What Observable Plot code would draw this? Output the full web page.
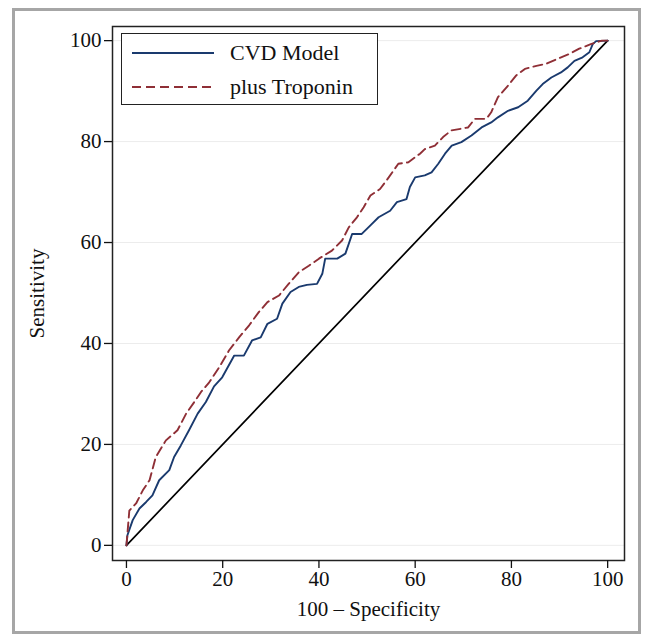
<!DOCTYPE html>
<html>
<head>
<meta charset="utf-8">
<script src="https://cdn.jsdelivr.net/npm/d3@7"></script>
<script src="https://cdn.jsdelivr.net/npm/@observablehq/plot@0.6"></script>
<style>
  html, body { margin: 0; padding: 0; background: #fff; }
  #wrap { position: relative; width: 647px; height: 637px; overflow: hidden; }
  #border { position: absolute; left: 12px; top: 8px; width: 629px; height: 626px; box-sizing: border-box; border: 3px solid #a6a6a6; }
  #chart { position: absolute; left: 0; top: 0; }
  #legend { position: absolute; left: 121px; top: 33px; width: 257px; height: 72px; box-sizing: border-box;
            border: 1.5px solid #222; background: #fff; font-family: "Liberation Serif", "DejaVu Serif", serif; font-size: 22px; color: #111; }
  .row { position: absolute; left: 10px; display: flex; align-items: center; line-height: 24px; }
  .row span { margin-left: 16px; }
</style>
</head>
<body>
<div id="wrap">
  <div id="border"></div>
  <div id="chart"></div>
  <div id="legend"></div>
</div>
<script>
// ---- data ----
const seriesNames = ["CVD Model", "plus Troponin"];
const seriesColors = ["#1a3a6e", "#8f2f36"];

const cvdFpr = [0,0.2,1.3,2.7,4.1,5.4,6.8,8.9,9.9,11.3,13,14.8,16.5,18.2,19.9,22.4,24.4,26.1,27.9,29.3,31.3,32.4,34.1,35.8,37.5,39.6,40.7,41.3,43.8,45.5,46.9,48.9,50.7,52.4,54.8,56.2,58.2,58.9,60,62,63.4,64.8,66.2,67.6,69.6,71.7,73.8,75.8,77.2,79.3,81.4,83.4,85.2,86.5,88.3,90.3,91.7,93.1,94.8,96.2,96.9,97.6,100];
const cvdTpr = [0,2,5,7.3,8.6,9.9,12.9,14.9,17.5,19.8,22.8,26.1,28.4,31.5,33.3,37.6,37.6,40.6,41.2,43.9,44.9,47.9,50.2,51.2,51.6,51.8,53.8,56.8,56.8,57.8,61.7,61.7,63.4,65,66.3,68,68.6,71,72.9,73.3,73.9,75.6,77.6,79.2,79.9,81.2,82.8,83.8,84.8,86.1,86.8,88.1,90.1,91.4,92.7,93.7,94.7,96,96.7,97.7,99.3,99.9,100];

const tropFpr = [0,0.2,0.6,2,3.4,4.8,6.1,8.2,10.6,12.4,14.1,15.5,17.2,19.3,21.3,23.4,25.5,27.5,29.3,31.7,33.7,35.8,37.9,40,42.7,44.8,46.2,47.9,49.3,50.7,52.7,54.5,56.5,58.6,61,62,64.1,65.8,67.5,71,72.4,74.8,75.8,77.2,79.3,81,82.8,85.2,87.2,89.6,92.1,94.1,96.5,98.8,100];
const tropTpr = [0,2.3,6.9,8.3,10.9,12.9,17.5,20.8,22.8,26.1,28.4,30.4,32.3,35.3,38.6,41.2,43.6,46.2,48.2,49.5,51.8,54.1,55.4,56.8,58.4,60.4,63,65,67,69.3,70.6,72.9,75.6,75.9,77.6,78.5,79.2,80.9,82.2,82.8,84.5,84.5,85.8,88.8,91.1,93.1,94.4,95,95.4,96.4,97.4,98.4,99.3,100,100];

const refX = [0, 100];
const refY = [0, 100];

const xTicks = [0, 20, 40, 60, 80, 100];
const yTicks = [0, 20, 40, 60, 80, 100];

// ---- build tables ----
const cvd = cvdFpr.map((x, i) => ({x, y: cvdTpr[i]}));
const trop = tropFpr.map((x, i) => ({x, y: tropTpr[i]}));
const ref = refX.map((x, i) => ({x, y: refY[i]}));

const font = '"Liberation Serif", "DejaVu Serif", serif';

const chart = Plot.plot({
  width: 647,
  height: 637,
  marginLeft: 112,
  marginRight: 23,
  marginTop: 26,
  marginBottom: 77,
  style: { fontFamily: font, fontSize: "21px", color: "#111", background: "transparent" },
  x: { domain: [-2.9, 103.5] },
  y: { domain: [-3.0, 102.8] },
  marks: [
    Plot.ruleY(yTicks, { stroke: "#ececec", strokeWidth: 1 }),
    Plot.frame({ stroke: "#222", strokeWidth: 1.5 }),
    Plot.axisX(xTicks, { tickSize: 8, tickPadding: 3, strokeWidth: 1.3, fontSize: 21,
      label: "100 – Specificity", labelAnchor: "center", labelArrow: "none", labelOffset: 55 }),
    Plot.axisY(yTicks, { tickSize: 8, tickPadding: 3, strokeWidth: 1.3, fontSize: 21,
      label: "Sensitivity", labelAnchor: "center", labelArrow: "none", labelOffset: 83 }),
    Plot.line(ref, { x: "x", y: "y", stroke: "#000", strokeWidth: 1.7 }),
    Plot.line(cvd, { x: "x", y: "y", stroke: seriesColors[0], strokeWidth: 1.9 }),
    Plot.line(trop, { x: "x", y: "y", stroke: seriesColors[1], strokeWidth: 1.9, strokeDasharray: "9,5" })
  ]
});
document.getElementById("chart").appendChild(chart);

// ---- legend ----
const legend = document.getElementById("legend");
seriesNames.forEach((name, i) => {
  const row = document.createElement("div");
  row.className = "row";
  row.style.top = (i === 0 ? 7 : 41) + "px";
  const dash = i === 1 ? 'stroke-dasharray="9,5"' : '';
  row.innerHTML = `<svg width="82" height="20"><line x1="0" y1="10" x2="82" y2="10" stroke="${seriesColors[i]}" stroke-width="1.8" ${dash}/></svg><span>${name}</span>`;
  legend.appendChild(row);
});
</script>
</body>
</html>
